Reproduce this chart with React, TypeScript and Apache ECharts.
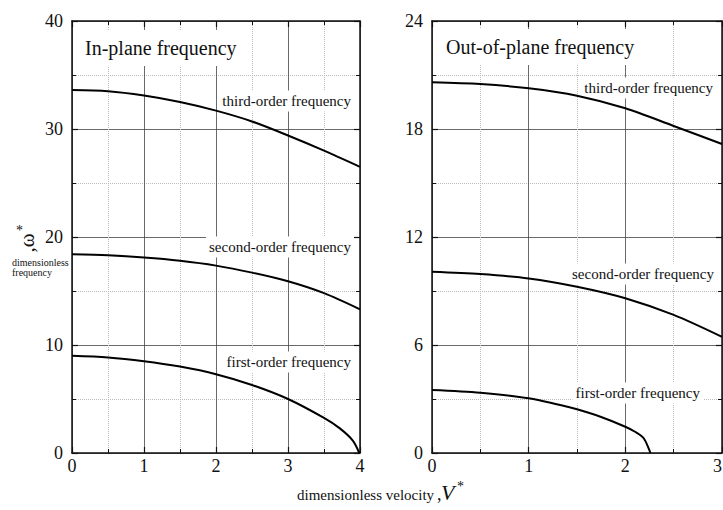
import React, { useEffect, useRef } from "react";
import * as echarts from "echarts";

// ---- data ----
const inPlaneV = [0, 0.5, 1, 1.5, 2, 2.5, 3, 3.5, 4];
const inPlaneThird = [33.6, 33.5, 33.1, 32.5, 31.7, 30.7, 29.4, 28.0, 26.5];
const inPlaneSecond = [18.4, 18.3, 18.1, 17.8, 17.35, 16.7, 15.9, 14.8, 13.3];
const inPlaneFirstV = [0, 0.5, 1, 1.5, 2, 2.5, 3, 3.5, 3.72, 3.9, 3.99];
const inPlaneFirst = [9.0, 8.85, 8.5, 8.0, 7.3, 6.3, 5.0, 3.25, 2.28, 1.15, 0];

const outPlaneV = [0, 0.5, 1, 1.5, 2, 2.5, 3];
const outPlaneThird = [20.6, 20.5, 20.26, 19.85, 19.15, 18.17, 17.17];
const outPlaneSecond = [10.07, 9.94, 9.7, 9.24, 8.6, 7.67, 6.45];
const outPlaneFirstV = [0, 0.5, 1, 1.5, 1.75, 2, 2.1, 2.19, 2.26];
const outPlaneFirst = [3.5, 3.35, 3.04, 2.43, 2.0, 1.46, 1.18, 0.82, 0];

const inPlaneXMax = 4;
const inPlaneYMax = 40;
const inPlaneYStep = 10;
const outPlaneXMax = 3;
const outPlaneYMax = 24;
const outPlaneYStep = 6;

const FONT = "Liberation Serif, Times New Roman, serif";
const INK = "#111";

function pairs(xs: number[], ys: number[]) {
  return xs.map((x, i) => [x, ys[i]]);
}

function xAxes(gridIndex: number, max: number, alignMax = "center") {
  const common = {
    type: "value",
    gridIndex,
    min: 0,
    max,
    interval: 1,
    axisLine: { show: true, onZero: false, lineStyle: { color: INK, width: 1.5 } },
    axisTick: { show: true, inside: true, length: 6, lineStyle: { color: INK, width: 1.2 } },
    minorTick: { show: true, splitNumber: 2, length: 4, lineStyle: { color: INK, width: 1 } },
  };
  return [
    {
      ...common,
      position: "bottom",
      splitLine: { show: true, lineStyle: { color: "#444", width: 0.8 } },
      minorSplitLine: { show: true, lineStyle: { color: "#bbb", type: "dotted", width: 1 } },
      axisLabel: {
        show: true,
        margin: 4,
        fontSize: 18,
        fontFamily: FONT,
        color: INK,
        alignMaxLabel: alignMax,
      },
    },
    {
      ...common,
      position: "top",
      splitLine: { show: false },
      minorSplitLine: { show: false },
      axisLabel: { show: false },
    },
  ];
}

function yAxes(gridIndex: number, max: number, step: number) {
  const common = {
    type: "value",
    gridIndex,
    min: 0,
    max,
    interval: step,
    axisLine: { show: true, onZero: false, lineStyle: { color: INK, width: 1.5 } },
    axisTick: { show: true, inside: true, length: 6, lineStyle: { color: INK, width: 1.2 } },
    minorTick: { show: true, splitNumber: 2, length: 4, lineStyle: { color: INK, width: 1 } },
  };
  return [
    {
      ...common,
      position: "left",
      splitLine: { show: true, lineStyle: { color: "#444", width: 0.8 } },
      minorSplitLine: { show: true, lineStyle: { color: "#bbb", type: "dotted", width: 1 } },
      axisLabel: { show: true, margin: 9, fontSize: 18, fontFamily: FONT, color: INK },
    },
    {
      ...common,
      position: "right",
      splitLine: { show: false },
      minorSplitLine: { show: false },
      axisLabel: { show: false },
    },
  ];
}

function curve(xi: number, yi: number, data: number[][]) {
  return {
    type: "line",
    xAxisIndex: xi,
    yAxisIndex: yi,
    data,
    symbol: "none",
    showSymbol: false,
    smooth: 0.3,
    lineStyle: { color: "#000", width: 2 },
    z: 5,
    silent: true,
  };
}

function label(text: string, x: number, y: number, size: number, align = "right", pad = [3, 3, 3, 3]) {
  return {
    type: "text",
    z: 3,
    silent: true,
    style: {
      text,
      x,
      y,
      fill: INK,
      fontSize: size,
      fontFamily: FONT,
      align,
      textAlign: align,
      verticalAlign: "middle",
      textVerticalAlign: "middle",
      backgroundColor: "#fff",
      padding: pad,
    },
  };
}

function plainText(text: string, x: number, y: number, size: number, extra: any = {}, rotation = 0) {
  return {
    type: "text",
    z: 3,
    silent: true,
    x,
    y,
    rotation,
    style: {
      text,
      x: 0,
      y: 0,
      fill: INK,
      fontSize: size,
      fontFamily: FONT,
      fontStyle: extra.italic ? "italic" : "normal",
      align: extra.align || "left",
      textAlign: extra.align || "left",
      verticalAlign: "middle",
      textVerticalAlign: "middle",
    },
  };
}

export default function App() {
  const ref = useRef<HTMLDivElement>(null);

  useEffect(() => {
    if (!ref.current) return;
    const chart = echarts.init(ref.current, undefined, { renderer: "svg" });
    chart.setOption({
      animation: false,
      backgroundColor: "#fff",
      grid: [
        { left: 72, top: 21, width: 288, height: 432, containLabel: false, outerBoundsMode: "none" },
        { left: 432, top: 21, width: 290, height: 432, containLabel: false, outerBoundsMode: "none" },
      ],
      xAxis: [...xAxes(0, inPlaneXMax), ...xAxes(1, outPlaneXMax, "right")],
      yAxis: [...yAxes(0, inPlaneYMax, inPlaneYStep), ...yAxes(1, outPlaneYMax, outPlaneYStep)],
      series: [
        curve(0, 0, pairs(inPlaneV, inPlaneThird)),
        curve(0, 0, pairs(inPlaneV, inPlaneSecond)),
        curve(0, 0, pairs(inPlaneFirstV, inPlaneFirst)),
        curve(2, 2, pairs(outPlaneV, outPlaneThird)),
        curve(2, 2, pairs(outPlaneV, outPlaneSecond)),
        curve(2, 2, pairs(outPlaneFirstV, outPlaneFirst)),
      ],
      graphic: [
        label("In-plane frequency", 81, 48, 20, "left", [8, 4, 8, 4]),
        label("Out-of-plane frequency", 442, 47, 20, "left", [8, 4, 8, 4]),
        label("third-order frequency", 354, 101, 15),
        label("second-order frequency", 354, 247, 15),
        label("first-order frequency", 354, 362, 15),
        label("third-order frequency", 716, 88, 15),
        label("second-order frequency", 717, 274, 15),
        label("first-order frequency", 703, 393, 15),
        plainText(",ω", 27, 243, 21, { align: "center" }, Math.PI / 2),
        plainText("*", 16, 230, 14),
        plainText("dimensionless", 12, 262, 10),
        plainText("frequency", 12, 272, 10),
        plainText("dimensionless velocity", 297, 495, 15),
        plainText(",", 437, 494, 18),
        plainText("V", 441, 492, 22, { italic: true }),
        plainText("*", 457, 486, 14),
      ],
    });
    return () => chart.dispose();
  }, []);

  return (
    <div
      ref={ref}
      style={{ position: "absolute", left: 0, top: 0, width: 723, height: 510, background: "#fff" }}
    />
  );
}
